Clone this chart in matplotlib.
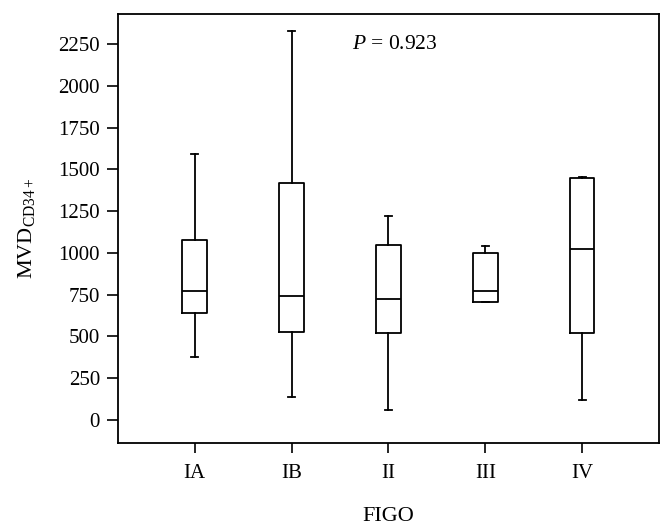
import matplotlib
matplotlib.use("Agg")
import matplotlib.pyplot as plt

plt.rcParams["font.family"] = ["Liberation Serif", "DejaVu Serif"]
plt.rcParams["mathtext.fontset"] = "custom"
plt.rcParams["mathtext.rm"] = "Liberation Serif"
plt.rcParams["mathtext.it"] = "Liberation Serif:italic"

# FIGO stages and box statistics (MVD CD34+)
stages = ["IA", "IB", "II", "III", "IV"]
whisker_low = [375, 140, 62, 706, 122]
q1 = [640, 527, 520, 706, 520]
median = [770, 742, 725, 772, 1022]
q3 = [1075, 1418, 1050, 997, 1450]
whisker_high = [1590, 2330, 1222, 1040, 1452]
p_text = "0.923"

stats = []
for i, name in enumerate(stages):
    stats.append({
        "label": name,
        "whislo": whisker_low[i],
        "q1": q1[i],
        "med": median[i],
        "q3": q3[i],
        "whishi": whisker_high[i],
        "fliers": [],
    })

fig = plt.figure(figsize=(6.72, 5.25), dpi=100)
ax = fig.add_axes([0.1756, 0.1556, 0.805, 0.8177])

lw = 1.3
line = dict(color="black", linewidth=lw)
ax.bxp(stats, positions=range(1, 6), widths=0.25, capwidths=0.07,
       showfliers=False,
       boxprops=line, whiskerprops=line, capprops=line,
       medianprops=line)

ax.set_xlim(0.21, 5.79)
ax.set_ylim(-140, 2430)
ax.set_yticks(range(0, 2251, 250))
ax.set_xticks(range(1, 6))
ax.set_xticklabels(stages)

for s in ax.spines.values():
    s.set_linewidth(1.3)
ax.tick_params(axis="y", direction="out", length=8, width=1.2, labelsize=15, pad=5)
ax.tick_params(axis="x", direction="out", length=7, width=1.2, labelsize=15, pad=8)

ax.text(2.62, 2245, "$P$ = " + p_text, fontsize=15.5, ha="left", va="center")

ax.set_ylabel(r"MVD$_{\mathrm{CD34+}}$", fontsize=16)
ax.yaxis.set_label_coords(-0.15, 0.5)
ax.set_xlabel("FIGO", fontsize=16)
ax.xaxis.set_label_coords(0.5, -0.148)

fig.savefig("out.png", dpi=100)
